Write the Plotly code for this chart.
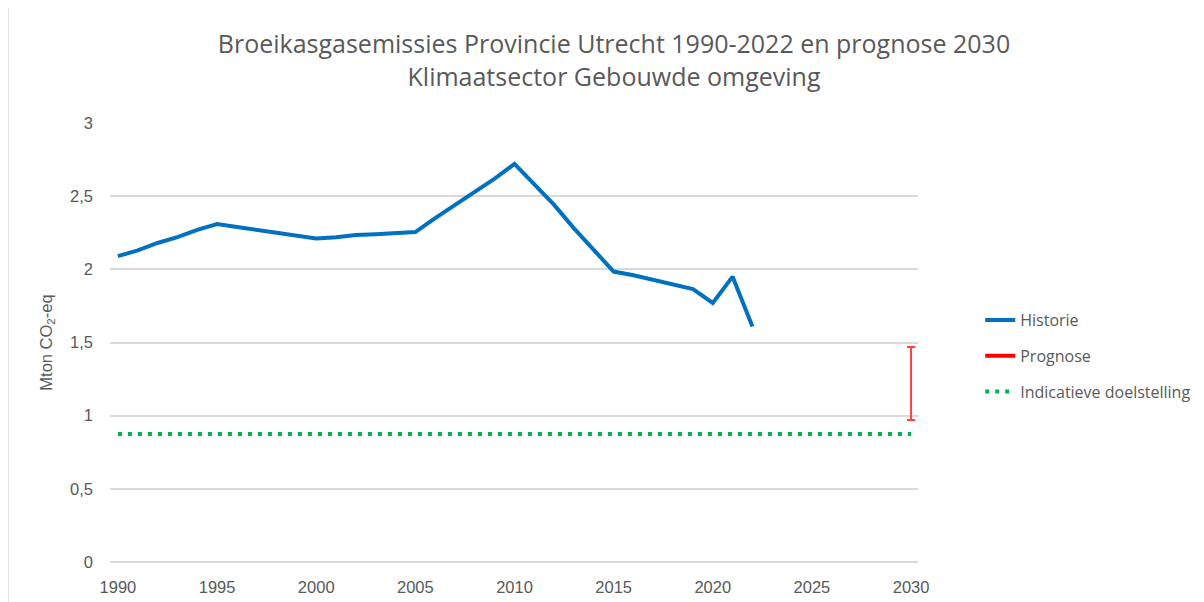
import plotly.graph_objects as go

years = list(range(1990, 2023))
historie = [2.09, 2.13, 2.18, 2.22, 2.27, 2.31, 2.29, 2.27, 2.25, 2.23, 2.21,
            2.22, 2.235, 2.24, 2.245, 2.255, 2.35, 2.44, 2.53, 2.62, 2.72,
            2.58, 2.44, 2.28, 2.13, 1.985, 1.96, 1.93, 1.90, 1.865, 1.77, 1.95, 1.61]
prognose_year = [2030]
prognose_low = 0.97
prognose_high = 1.47
doel_years = [1990, 2030]
doel_values = [0.875, 0.875]

y_ticks = [0, 0.5, 1, 1.5, 2, 2.5, 3]
y_ticktext = ["0", "0,5", "1", "1,5", "2", "2,5", "3"]
x_ticks = list(range(1990, 2031, 5))

gray = "#595959"
W, H = 1196, 594
L, T, PW, PH = 102, 115, 808, 439

fig = go.Figure()

fig.add_trace(go.Scatter(x=years, y=historie, mode="lines", name="Historie",
                         line=dict(color="#0070C0", width=4), legendgroup="a"))
mid = (prognose_low + prognose_high) / 2
fig.add_trace(go.Scatter(x=prognose_year, y=[mid], mode="lines", name="Prognose",
                         line=dict(color="#FF0000", width=4), legendgroup="b",
                         error_y=dict(type="data", symmetric=True,
                                      array=[(prognose_high - prognose_low) / 2],
                                      color="#FF4040", thickness=2, width=4)))
fig.add_trace(go.Scatter(x=doel_years, y=doel_values, mode="lines",
                         name="Indicatieve doelstelling", legendgroup="c",
                         line=dict(color="#00B050", width=4, dash="4px,6px")))

fig.update_layout(
    width=W, height=H,
    paper_bgcolor="white", plot_bgcolor="white",
    margin=dict(l=L, r=W - L - PW, t=T, b=H - T - PH, autoexpand=False),
    title=dict(text="Broeikasgasemissies Provincie Utrecht 1990-2022 en prognose 2030<br>Klimaatsector Gebouwde omgeving",
               x=606 / W, xanchor="center", y=1 - 45 / H, yanchor="top",
               font=dict(family="Open Sans", size=25, color=gray)),
    xaxis=dict(range=[1989.6, 2030.35], tickvals=x_ticks, showgrid=False,
               zeroline=False, showline=False, ticks="", ticklabelstandoff=13,
               automargin=False,
               tickfont=dict(family="Liberation Sans", size=16.5, color=gray)),
    yaxis=dict(range=[0, 3], tickvals=y_ticks, ticktext=y_ticktext,
               showgrid=True, gridcolor="#D9D9D9", gridwidth=1.5,
               zeroline=True, zerolinecolor="#D9D9D9", zerolinewidth=1.5,
               showline=False, ticks="", ticklabelstandoff=16, automargin=False,
               tickfont=dict(family="Liberation Sans", size=16.5, color=gray),
               title=dict(text="Mton CO<sub>2</sub>-eq", standoff=13,
                          font=dict(family="Liberation Sans", size=16.5, color=gray))),
    legend=dict(x=1.077, y=0.59, xanchor="left", yanchor="top",
                traceorder="grouped", tracegroupgap=12,
                font=dict(family="Open Sans", size=16, color=gray)),
    shapes=[dict(type="line", xref="paper", yref="paper",
                 x0=(0 - L) / PW, x1=(0 - L) / PW, y0=-1, y1=2,
                 line=dict(color="#D9D9D9", width=1.5))],
)

fig.write_html("out.html")
